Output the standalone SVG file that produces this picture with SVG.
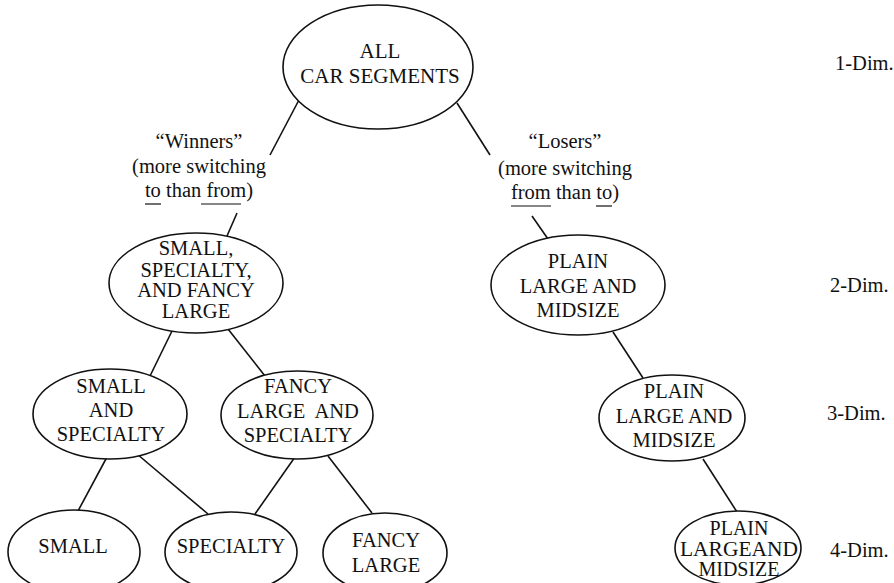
<svg xmlns="http://www.w3.org/2000/svg" width="894" height="583" viewBox="0 0 894 583">
<style>
.n{fill:#fff;stroke:#111;stroke-width:1.6}
.t{font-family:"Liberation Serif","Times New Roman",serif;font-size:20.5px;fill:#111;text-anchor:middle}
.d{font-family:"Liberation Serif","Times New Roman",serif;font-size:20.5px;fill:#111}
.c line{stroke:#111;stroke-width:1.6}
.u{stroke:#111;stroke-width:1.2}
</style>
<rect width="894" height="583" fill="#fff"/>
<g class="c" id="connectors">
<line x1="300" y1="98" x2="270" y2="155"/>
<line x1="457" y1="103" x2="490" y2="155"/>
<line x1="237" y1="213" x2="227" y2="236"/>
<line x1="532" y1="216" x2="548" y2="239"/>
<line x1="172" y1="331" x2="150" y2="376"/>
<line x1="228" y1="329" x2="265" y2="376"/>
<line x1="107" y1="457" x2="78" y2="511"/>
<line x1="137" y1="454" x2="208" y2="514"/>
<line x1="295" y1="457" x2="255" y2="514"/>
<line x1="328" y1="456" x2="372" y2="513"/>
<line x1="613" y1="332" x2="643" y2="378"/>
<line x1="703" y1="459" x2="737" y2="512"/>
</g>
<g id="n_all">
<ellipse class="n" cx="378" cy="67" rx="95" ry="62"/>
<text class="t" x="380" y="58" style="font-size:21px">ALL</text>
<text class="t" x="380" y="83" style="font-size:21px">CAR SEGMENTS</text>
</g>
<g id="lbl_winners">
<text class="t" x="199" y="148">“Winners”</text>
<text class="t" x="199" y="173">(more switching</text>
<text class="t" x="199" y="197">to than from)</text>
<line class="u" x1="145" y1="204" x2="161" y2="204"/>
<line class="u" x1="201" y1="204" x2="241" y2="204"/>
</g>
<g id="lbl_losers">
<text class="t" x="565" y="148">“Losers”</text>
<text class="t" x="565" y="175">(more switching</text>
<text class="t" x="565" y="199">from than to)</text>
<line class="u" x1="511" y1="206" x2="551" y2="206"/>
<line class="u" x1="596" y1="206" x2="612" y2="206"/>
</g>
<g id="n_winners">
<ellipse class="n" cx="196" cy="283" rx="87" ry="50"/>
<text class="t" x="196" y="255">SMALL,</text>
<text class="t" x="196" y="277">SPECIALTY,</text>
<text class="t" x="196" y="297">AND FANCY</text>
<text class="t" x="196" y="318">LARGE</text>
</g>
<g id="n_losers">
<ellipse class="n" cx="578" cy="285" rx="87" ry="50"/>
<text class="t" x="578" y="268">PLAIN</text>
<text class="t" x="578" y="293">LARGE AND</text>
<text class="t" x="578" y="317">MIDSIZE</text>
</g>
<g id="n_small_spec">
<ellipse class="n" cx="110" cy="414" rx="77" ry="45"/>
<text class="t" x="111" y="393">SMALL</text>
<text class="t" x="111" y="417">AND</text>
<text class="t" x="111" y="441">SPECIALTY</text>
</g>
<g id="n_fancy_spec">
<ellipse class="n" cx="297" cy="415" rx="76" ry="44"/>
<text class="t" x="298" y="393">FANCY</text>
<text class="t" x="298" y="418" xml:space="preserve">LARGE  AND</text>
<text class="t" x="298" y="442">SPECIALTY</text>
</g>
<g id="n_plain3">
<ellipse class="n" cx="672" cy="418" rx="73" ry="43"/>
<text class="t" x="674" y="398">PLAIN</text>
<text class="t" x="674" y="423">LARGE AND</text>
<text class="t" x="674" y="447">MIDSIZE</text>
</g>
<g id="n_small">
<ellipse class="n" cx="74" cy="552" rx="66" ry="42"/>
<text class="t" x="73" y="553">SMALL</text>
</g>
<g id="n_specialty">
<ellipse class="n" cx="231" cy="552" rx="66" ry="40"/>
<text class="t" x="231" y="553">SPECIALTY</text>
</g>
<g id="n_fancy">
<ellipse class="n" cx="385" cy="553" rx="62" ry="40"/>
<text class="t" x="386" y="547">FANCY</text>
<text class="t" x="386" y="572">LARGE</text>
</g>
<g id="n_plain4">
<ellipse class="n" cx="738" cy="548" rx="63" ry="37"/>
<text class="t" x="739" y="535" style="font-size:20px">PLAIN</text>
<text class="t" x="739" y="556" style="font-size:20px" textLength="118" lengthAdjust="spacingAndGlyphs">LARGEAND</text>
<text class="t" x="739" y="576" style="font-size:20px">MIDSIZE</text>
</g>
<g id="dims">
<text class="d" x="835" y="70">1-Dim.</text>
<text class="d" x="830" y="292">2-Dim.</text>
<text class="d" x="827" y="420">3-Dim.</text>
<text class="d" x="830" y="557">4-Dim.</text>
</g>
</svg>
